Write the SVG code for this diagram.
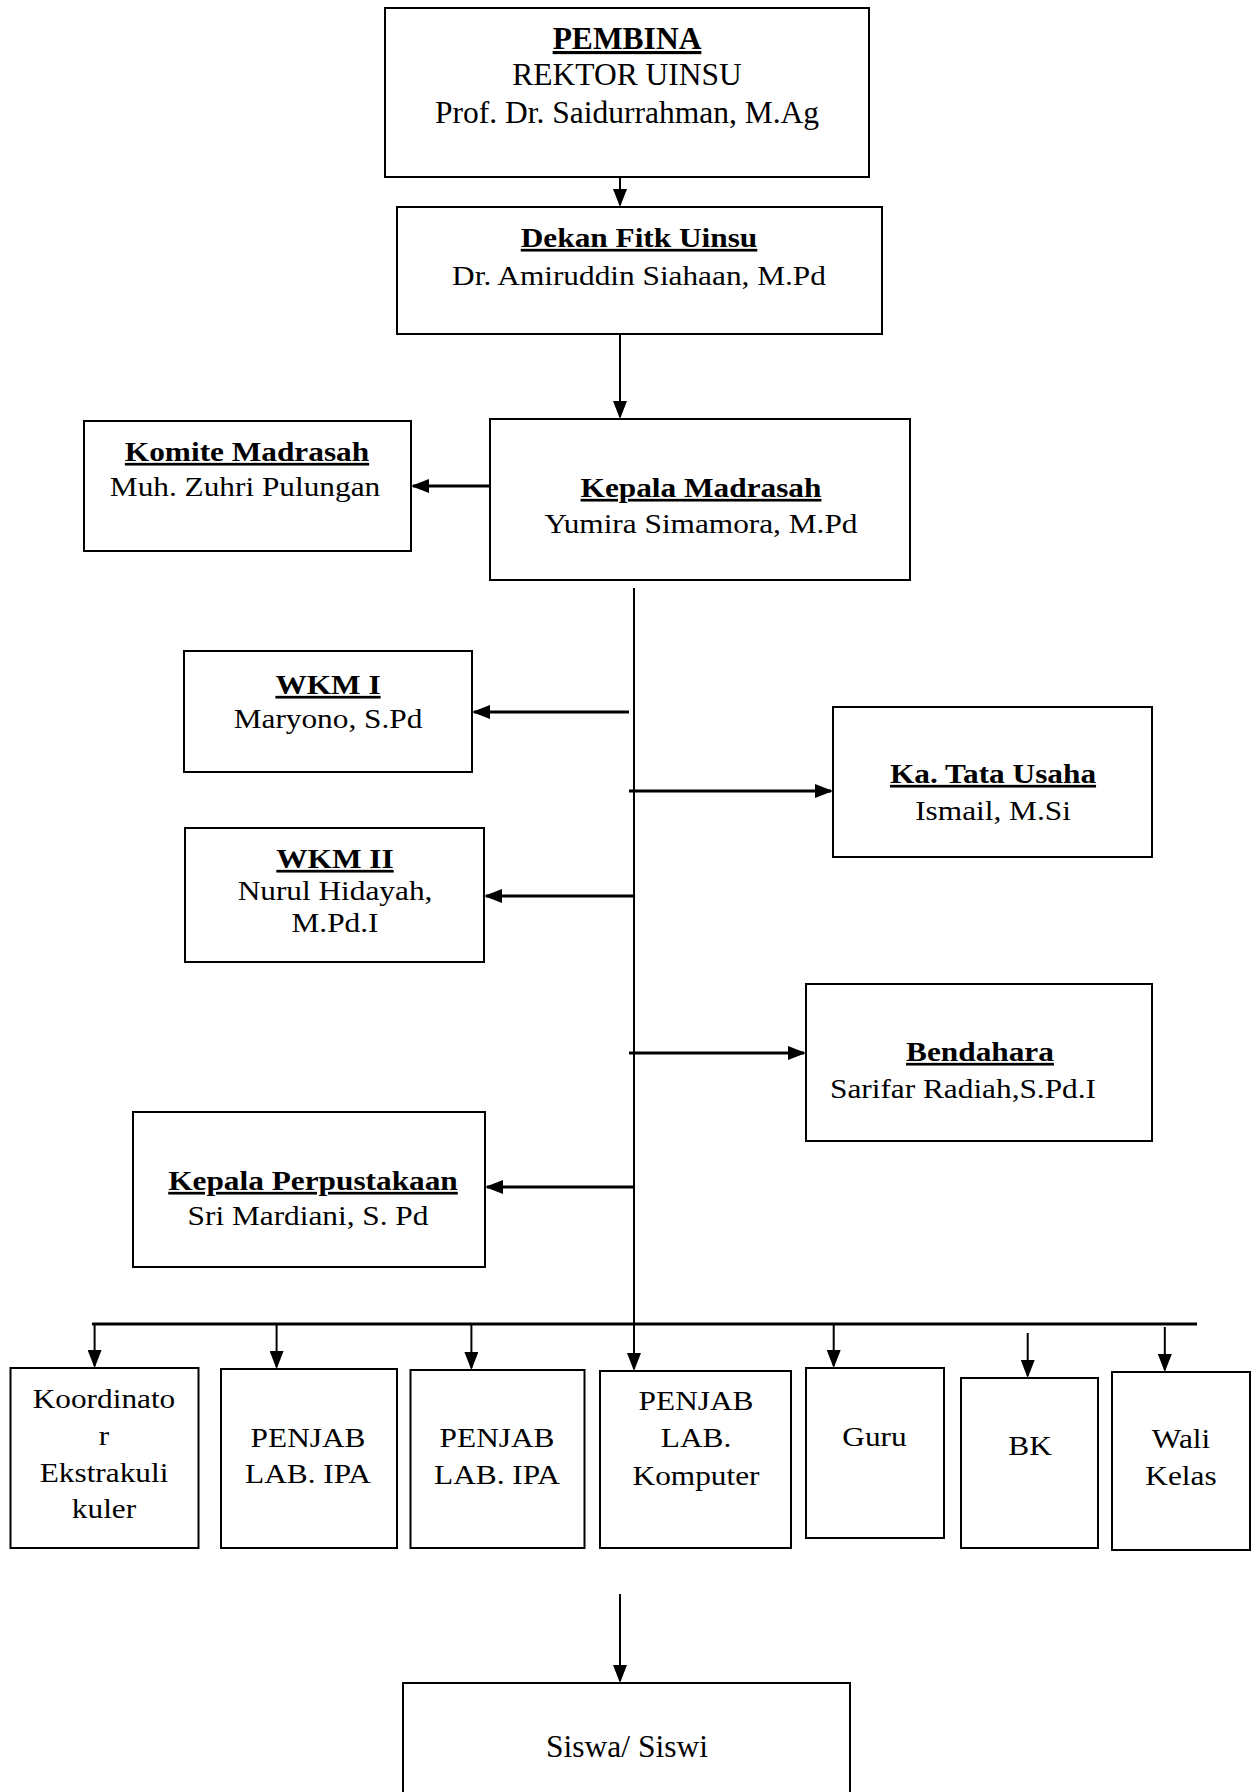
<svg xmlns="http://www.w3.org/2000/svg" width="1257" height="1792" viewBox="0 0 1257 1792">
<style>
  .box { fill: #ffffff; stroke: #000000; stroke-width: 2; }
  text { font-family: "Liberation Serif", "Times New Roman", serif; fill: #000000; text-anchor: middle; }
  .n { font-size: 27px; }
  .h { font-size: 27px; font-weight: bold; text-decoration: underline; text-decoration-thickness: 2.5px; text-underline-offset: 4px; }
  .big { font-size: 31.5px; }
  .bigh { font-size: 31.5px; font-weight: bold; text-decoration: underline; text-decoration-thickness: 2.5px; text-underline-offset: 4px; }
  .v { fill: none; stroke: #000000; stroke-width: 2; }
  .hz { fill: none; stroke: #000000; stroke-width: 2.8; }
</style>
<defs>
  <marker id="arr" markerUnits="userSpaceOnUse" markerWidth="18" markerHeight="14" refX="16" refY="7" orient="auto">
    <path d="M0,0 L18,7 L0,14 Z" fill="#000000"/>
  </marker>
</defs>
<rect width="1257" height="1792" fill="#ffffff"/>

<g id="connectors">
  <path class="v" d="M620,133 V205" marker-end="url(#arr)"/>
  <path class="v" d="M620,334 V417" marker-end="url(#arr)"/>
  <path class="hz" d="M490,486 H413" marker-end="url(#arr)"/>
  <path class="v" d="M634,588 V1369" marker-end="url(#arr)"/>
  <path class="hz" d="M629,712 H474" marker-end="url(#arr)"/>
  <path class="hz" d="M629,791 H831" marker-end="url(#arr)"/>
  <path class="hz" d="M634,896 H486" marker-end="url(#arr)"/>
  <path class="hz" d="M629,1053 H804" marker-end="url(#arr)"/>
  <path class="hz" d="M634,1187 H487" marker-end="url(#arr)"/>
  <path class="hz" d="M92,1324 H1197"/>
  <path class="v" d="M94.6,1324 V1366" marker-end="url(#arr)"/>
  <path class="v" d="M276.6,1324 V1367" marker-end="url(#arr)"/>
  <path class="v" d="M471.4,1324 V1368" marker-end="url(#arr)"/>
  <path class="v" d="M833.7,1324 V1366" marker-end="url(#arr)"/>
  <path class="v" d="M1027.7,1333 V1376" marker-end="url(#arr)"/>
  <path class="v" d="M1164.8,1327 V1370" marker-end="url(#arr)"/>
  <path class="v" d="M620,1594 V1681" marker-end="url(#arr)"/>
</g>

<g id="pembina">
  <rect class="box" x="385" y="8" width="484" height="169"/>
  <text class="bigh" x="627" y="49">PEMBINA</text>
  <text class="big" x="627" y="85">REKTOR UINSU</text>
  <text class="big" x="627" y="123">Prof. Dr. Saidurrahman, M.Ag</text>
</g>

<g id="dekan">
  <rect class="box" x="397" y="207" width="485" height="127"/>
  <text class="h" transform="translate(639,247) scale(1.16,1)">Dekan Fitk Uinsu</text>
  <text class="n" transform="translate(639,285) scale(1.16,1)">Dr. Amiruddin Siahaan, M.Pd</text>
</g>

<g id="komite">
  <rect class="box" x="84" y="421" width="327" height="130"/>
  <text class="h" transform="translate(247,461) scale(1.16,1)">Komite Madrasah</text>
  <text class="n" transform="translate(245,496) scale(1.16,1)">Muh. Zuhri Pulungan</text>
</g>

<g id="kepala">
  <rect class="box" x="490" y="419" width="420" height="161"/>
  <text class="h" transform="translate(701,497) scale(1.16,1)">Kepala Madrasah</text>
  <text class="n" transform="translate(701,533) scale(1.16,1)">Yumira Simamora, M.Pd</text>
</g>

<g id="wkm1">
  <rect class="box" x="184" y="651" width="288" height="121"/>
  <text class="h" transform="translate(328,694) scale(1.16,1)">WKM I</text>
  <text class="n" transform="translate(328,728) scale(1.16,1)">Maryono, S.Pd</text>
</g>

<g id="tatausaha">
  <rect class="box" x="833" y="707" width="319" height="150"/>
  <text class="h" transform="translate(993,783) scale(1.16,1)">Ka. Tata Usaha</text>
  <text class="n" transform="translate(993,820) scale(1.16,1)">Ismail, M.Si</text>
</g>

<g id="wkm2">
  <rect class="box" x="185" y="828" width="299" height="134"/>
  <text class="h" transform="translate(335,868) scale(1.16,1)">WKM II</text>
  <text class="n" transform="translate(335,900) scale(1.16,1)">Nurul Hidayah,</text>
  <text class="n" transform="translate(335,932) scale(1.16,1)">M.Pd.I</text>
</g>

<g id="bendahara">
  <rect class="box" x="806" y="984" width="346" height="157"/>
  <text class="h" transform="translate(980,1061) scale(1.16,1)">Bendahara</text>
  <text class="n" transform="translate(963,1098) scale(1.16,1)">Sarifar Radiah,S.Pd.I</text>
</g>

<g id="perpustakaan">
  <rect class="box" x="133" y="1112" width="352" height="155"/>
  <text class="h" transform="translate(313,1190) scale(1.16,1)">Kepala Perpustakaan</text>
  <text class="n" transform="translate(308,1225) scale(1.16,1)">Sri Mardiani, S. Pd</text>
</g>

<g id="koordinator">
  <rect class="box" x="10.5" y="1368" width="188" height="180"/>
  <text class="n" transform="translate(104,1408) scale(1.16,1)">Koordinato</text>
  <text class="n" transform="translate(104,1445) scale(1.16,1)">r</text>
  <text class="n" transform="translate(104,1482) scale(1.16,1)">Ekstrakuli</text>
  <text class="n" transform="translate(104,1518) scale(1.16,1)">kuler</text>
</g>

<g id="penjab-ipa-1">
  <rect class="box" x="221" y="1369" width="176" height="179"/>
  <text class="n" transform="translate(308,1447) scale(1.16,1)">PENJAB</text>
  <text class="n" transform="translate(308,1483) scale(1.16,1)">LAB. IPA</text>
</g>

<g id="penjab-ipa-2">
  <rect class="box" x="410.5" y="1370" width="174" height="178"/>
  <text class="n" transform="translate(497,1447) scale(1.16,1)">PENJAB</text>
  <text class="n" transform="translate(497,1484) scale(1.16,1)">LAB. IPA</text>
</g>

<g id="penjab-komputer">
  <rect class="box" x="600" y="1371" width="191" height="177"/>
  <text class="n" transform="translate(696,1410) scale(1.16,1)">PENJAB</text>
  <text class="n" transform="translate(696,1447) scale(1.16,1)">LAB.</text>
  <text class="n" transform="translate(696,1485) scale(1.16,1)">Komputer</text>
</g>

<g id="guru">
  <rect class="box" x="806" y="1368" width="138" height="170"/>
  <text class="n" transform="translate(874.5,1446) scale(1.16,1)">Guru</text>
</g>

<g id="bk">
  <rect class="box" x="961" y="1378" width="137" height="170"/>
  <text class="n" transform="translate(1030,1455) scale(1.16,1)">BK</text>
</g>

<g id="walikelas">
  <rect class="box" x="1112" y="1372" width="138" height="178"/>
  <text class="n" transform="translate(1181,1448) scale(1.16,1)">Wali</text>
  <text class="n" transform="translate(1181,1485) scale(1.16,1)">Kelas</text>
</g>

<g id="siswa">
  <rect class="box" x="403" y="1683" width="447" height="118"/>
  <text class="big" x="627" y="1757">Siswa/ Siswi</text>
</g>
</svg>
